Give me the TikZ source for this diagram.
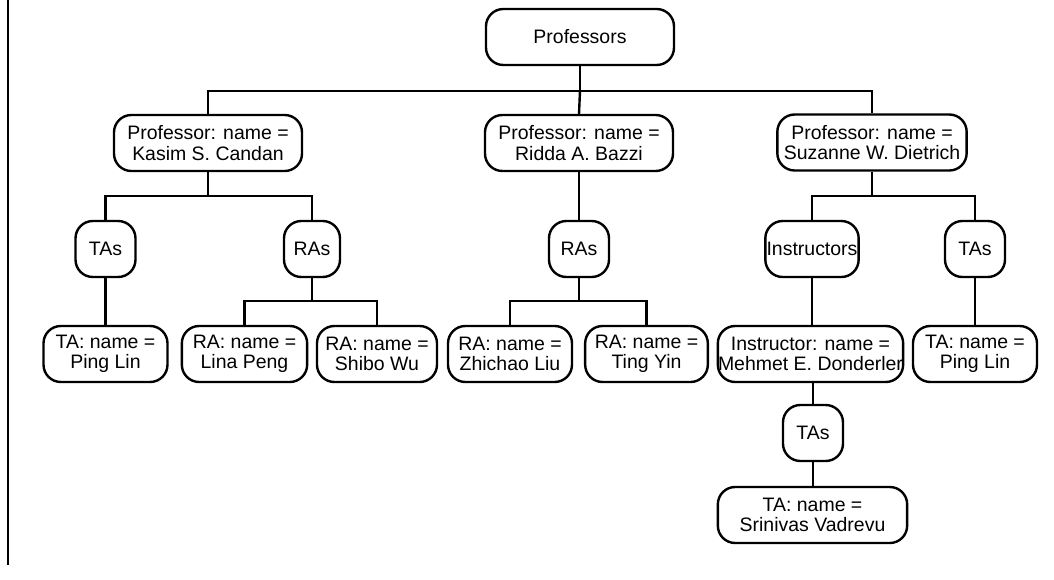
\documentclass[tikz,border=0pt]{standalone}
\usepackage{fontspec}
\setmainfont{Liberation Sans}
\usepackage{tikz}

\begin{document}
\begin{tikzpicture}[x=0.75pt,y=-0.75pt,
    tbox/.style={draw,line width=1.8pt,rounded corners=13pt,align=center,inner sep=0pt,
      minimum height=42pt,font=\fontsize{14.6}{15.4}\selectfont},
    link/.style={line width=1.8pt}]
        \useasboundingbox (0,0) rectangle (1054,579);
        \draw[line width=1.5pt] (8,0) -- (8,565);
        % top level
        \node[tbox,minimum width=141pt] (profs) at (580,37) {Professors};
        \node[tbox,minimum width=141pt] (candan) at (208,143) {Professor: name =\\Kasim S. Candan};
        \node[tbox,minimum width=141pt] (bazzi) at (579,143) {Professor: name =\\Ridda A. Bazzi};
        \node[tbox,minimum width=142pt] (dietrich) at (872,142.5) {Professor: name =\\Suzanne W. Dietrich};
        % second level
        \node[tbox,minimum width=45pt] (tasA) at (105.5,249) {TAs};
        \node[tbox,minimum width=42pt] (rasA) at (312,249) {RAs};
        \node[tbox,minimum width=45pt] (rasB) at (579,249) {RAs};
        \node[tbox,minimum width=70pt] (instrs) at (812,249) {Instructors};
        \node[tbox,minimum width=45pt] (tasC) at (975,249) {TAs};
        % third level
        \node[tbox,minimum width=93pt] (pinglinA) at (105.5,354) {TA: name =\\Ping Lin};
        \node[tbox,minimum width=94pt] (lina) at (244.5,354) {RA: name =\\Lina Peng};
        \node[tbox,minimum width=90pt] (shibo) at (377,354) {RA: name =\\Shibo Wu};
        \node[tbox,minimum width=93pt] (zhichao) at (510,354) {RA: name =\\Zhichao Liu};
        \node[tbox,minimum width=92pt] (ting) at (646.5,354) {RA: name =\\Ting Yin};
        \node[tbox,minimum width=139pt] (mehmet) at (810.5,354) {Instructor: name =\\Mehmet E. Donderler};
        \node[tbox,minimum width=93pt] (pinglinB) at (975,354) {TA: name =\\Ping Lin};
        \node[tbox,minimum width=45pt] (tasD) at (813,433) {TAs};
        \node[tbox,minimum width=142pt] (srinivas) at (812.5,515) {TA: name =\\Srinivas Vadrevu};
        % buses
        \coordinate (busTop) at (580,91);
        \coordinate (busCandan) at (208,196);
        \coordinate (busDietrich) at (872,196);
        \coordinate (busRasA) at (312,301);
        \coordinate (busRasB) at (579,301);
        % connectors
        \draw[link] (profs.south) -- (busTop);
        \draw[link] (busTop) -| (candan.north);
        \draw[link] (busTop) -| (dietrich.north);
        \draw[link] (busTop) -- (bazzi.north);
        \draw[link] (candan.south) -- (busCandan);
        \draw[link] (busCandan) -| (tasA.north);
        \draw[link] (busCandan) -| (rasA.north);
        \draw[link] (tasA.south) -- (pinglinA.north);
        \draw[link] (rasA.south) -- (busRasA);
        \draw[link] (busRasA) -| (lina.north);
        \draw[link] (busRasA) -| (shibo.north);
        \draw[link] (bazzi.south) -- (rasB.north);
        \draw[link] (rasB.south) -- (busRasB);
        \draw[link] (busRasB) -| (zhichao.north);
        \draw[link] (busRasB) -| (ting.north);
        \draw[link] (dietrich.south) -- (busDietrich);
        \draw[link] (busDietrich) -| (instrs.north);
        \draw[link] (busDietrich) -| (tasC.north);
        \draw[link] (instrs.south) -- (instrs.south |- mehmet.north);
        \draw[link] (tasC.south) -- (pinglinB.north);
        \draw[link] (mehmet.south -| tasD) -- (tasD.north);
        \draw[link] (tasD.south) -- (tasD.south |- srinivas.north);
      \end{tikzpicture}
\end{document}
